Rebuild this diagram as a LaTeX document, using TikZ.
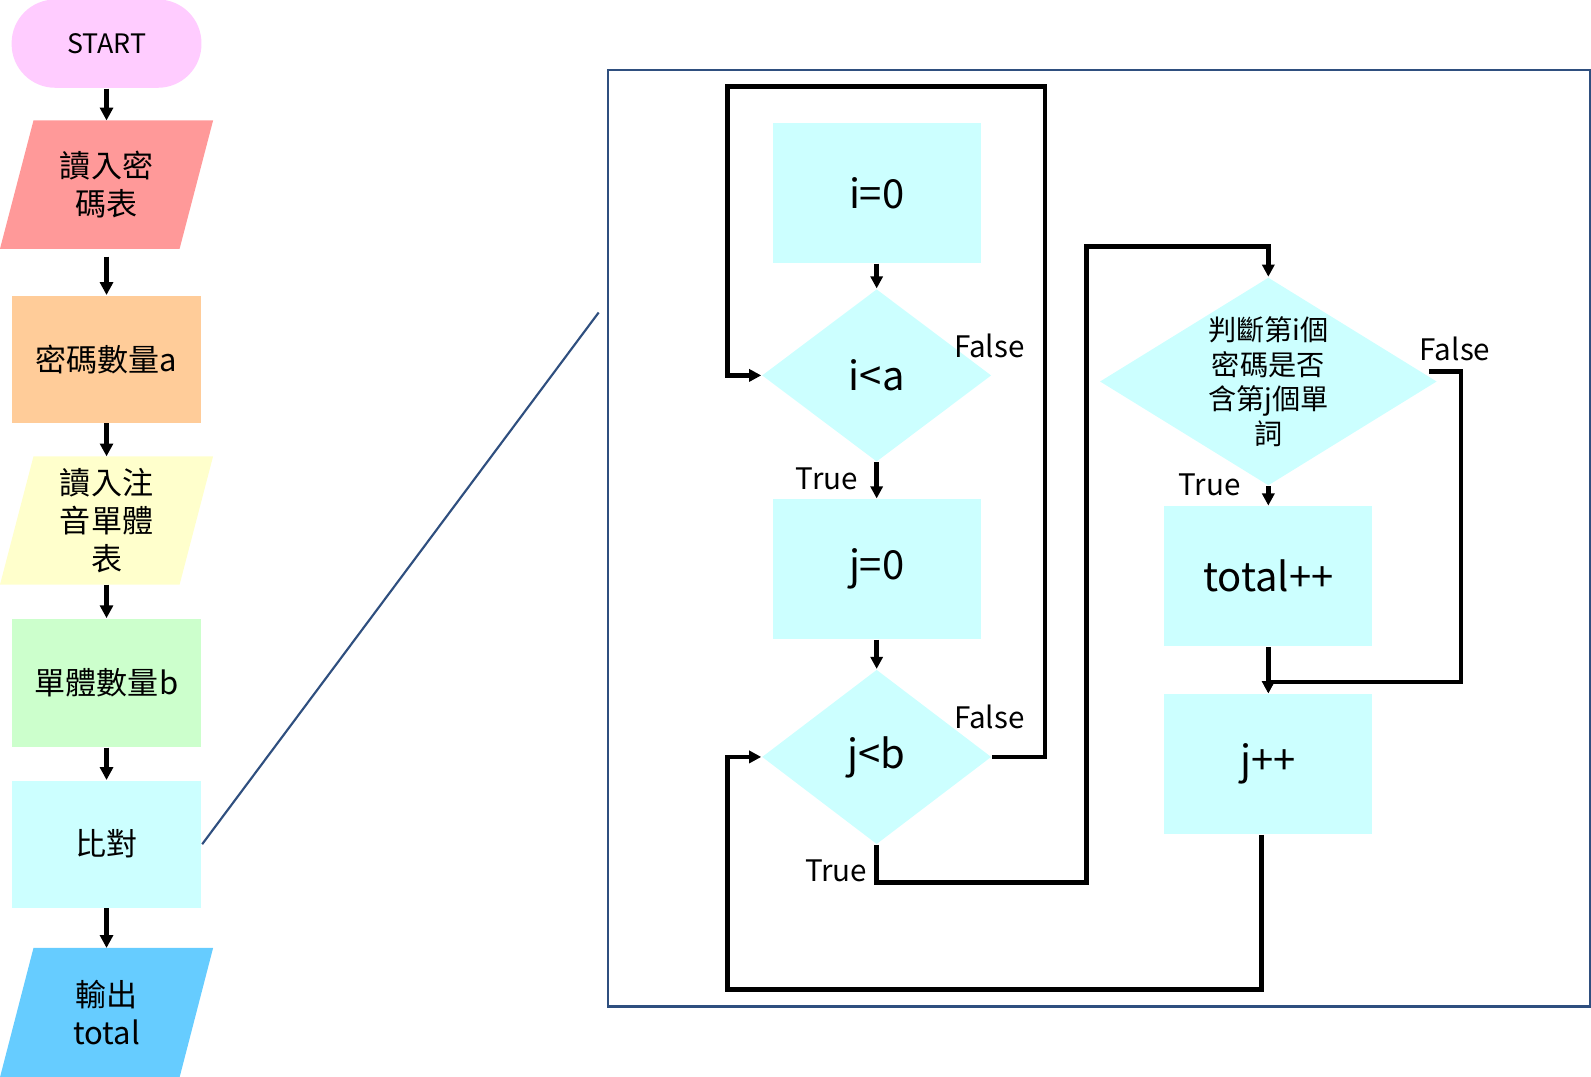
\documentclass[tikz,border=0pt]{standalone}
\usepackage{fontspec}
\setmainfont{Noto Sans CJK TC}
\usetikzlibrary{shapes.geometric,arrows.meta,backgrounds}
\definecolor{startpink}{HTML}{FFCCFF}
\definecolor{readred}{HTML}{FF9999}
\definecolor{numorange}{HTML}{FFCC99}
\definecolor{readyellow}{HTML}{FFFFCC}
\definecolor{numgreen}{HTML}{CCFFCC}
\definecolor{procyan}{HTML}{CCFFFF}
\definecolor{outblue}{HTML}{66CCFF}
\definecolor{framecol}{HTML}{2F4F7F}

\begin{document}
\begin{tikzpicture}[x=0.01cm,y=-0.01cm]
          \useasboundingbox (0,0) rectangle (1568,1061);
          \tikzset{
            block/.style={rectangle, inner sep=0pt, minimum width=1.87cm, minimum height=1.25cm,
              font=\fontsize{8.7}{10.7}\selectfont, align=center},
            io/.style={rectangle, inner sep=0pt, minimum width=1.755cm, minimum height=1.25cm,
              font=\fontsize{8.7}{10.7}\selectfont, align=center},
            procbox/.style={rectangle, fill=procyan, inner sep=0pt, minimum width=2.05cm,
              minimum height=1.38cm, font=\fontsize{11.2}{13}\selectfont},
            cond/.style={diamond, fill=procyan, inner sep=0pt, align=center,
              font=\fontsize{11.2}{13}\selectfont},
            flow/.style={line width=1.25pt, -{Triangle[length=3.6pt,width=3.6pt]}},
            loopline/.style={line width=1.3pt, -{Triangle[length=3.4pt,width=3.4pt]}},
            edgelabel/.style={font=\fontsize{8.3}{10}\selectfont}
          }

          % main flow
          \node[block, fill=startpink, rounded corners=0.43cm, minimum height=0.87cm,
                font=\fontsize{7.5}{9}\selectfont] (start) at (105,43) {START};
          \node[io] (readpw) at (105,182) {讀入密\\碼表};
          \node[block, fill=numorange] (numa) at (105,354) {密碼數量a};
          \node[io] (readzy) at (105,513) {讀入注\\音單體\\表};
          \node[block, fill=numgreen, minimum height=1.26cm] (numb) at (105,673) {單體數量b};
          \node[block, fill=procyan] (cmp) at (105,832) {比對};
          \node[io, minimum height=1.26cm] (out) at (105,998) {輸出\\total};

          % slanted input/output boxes
          \begin{scope}[on background layer]
            \foreach \n/\c/\s in {readpw/readred/0.165cm, readzy/readyellow/0.165cm, out/outblue/0.165cm}
              \fill[\c] ([xshift=-\s]\n.south west) -- ([xshift=\s]\n.north west)
                -- ([xshift=\s]\n.north east) -- ([xshift=-\s]\n.south east) -- cycle;
          \end{scope}

          \draw[flow] (start) -- (readpw);
          \draw[flow] (readpw.south |- 0,253) -- (numa);
          \draw[flow] (numa) -- (readzy);
          \draw[flow] (readzy) -- (numb);
          \draw[flow] (numb) -- (cmp);
          \draw[flow] (cmp) -- (out);

          % detail of the comparison
          \draw[framecol, line width=0.6pt] (599,69) rectangle (1567,992);
          \coordinate (zoomend) at (590,308);
          \draw[framecol, line width=0.6pt] (cmp.east) -- (zoomend);

          \node[procbox] (izero) at (864,190) {i=0};
          \node[cond, minimum width=2.26cm, minimum height=1.70cm] (iless) at (864,370) {i<a};
          \node[procbox] (jzero) at (864,561) {j=0};
          \node[cond, minimum width=2.26cm, minimum height=1.72cm] (jless) at (864,746) {j<b};
          \node[cond, minimum width=3.32cm, minimum height=2.05cm, aspect=1.62] (judge) at (1250,376) {};
          \node[font=\fontsize{7.9}{9.7}\selectfont, align=center] (judgetext) at (judge) {判斷第i個\\密碼是否\\含第j個單\\詞};
          \node[procbox] (total) at (1250,568) {total++};
          \node[procbox] (jplus) at (1250,753) {j++};

          \node[edgelabel] (ifalse) at (975,341) {False};
          \node[edgelabel] (itrue) at (815,472) {True};
          \node[edgelabel] (jfalse) at (975,707) {False};
          \node[edgelabel] (jtrue) at (824,858) {True};
          \node[edgelabel] (kfalse) at (1434,344) {False};
          \node[edgelabel] (ktrue) at (1192,478) {True};

          \draw[loopline] (izero) -- (iless);
          \draw[loopline] (iless) -- (jzero);
          \draw[loopline] (jzero) -- (jless);
          \draw[loopline] (judge) -- (total);
          \draw[loopline] (total) -- (jplus);

          % loop edges
          \draw[loopline] (jless.east) -- (1030,746) |- (717,85) |- (iless.west);
          \draw[loopline] (jless.south) |- (1071,870) |- (1250,243) -- (judge.north);
          \draw[loopline] ([shift={(-8,-10)}]judge.east) -- (1440,366) |- (1250,672) -- (jplus.north);
          \draw[loopline] ([xshift=-0.07cm]jplus.south) |- (717,975) |- (jless.west);
        \end{tikzpicture}
\end{document}
